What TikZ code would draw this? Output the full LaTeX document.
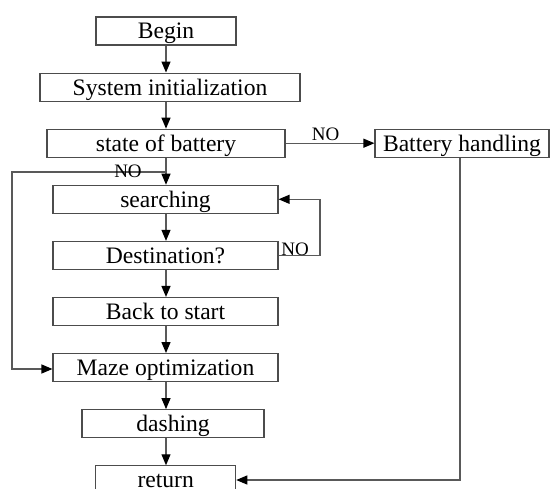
\documentclass[tikz,border=0pt]{standalone}
\usepackage{fontspec}
\setmainfont{Liberation Serif}
\usetikzlibrary{arrows.meta}
\begin{document}
\begin{tikzpicture}[x=1pt,y=-1pt,
  box/.style={draw=black!70,line width=1.1pt,minimum height=28pt,inner sep=0pt,
    text height=20.5pt,text depth=4.5pt,
    font=\fontsize{23.6}{26}\selectfont},
  conn/.style={draw=black!65,line width=1.2pt,-{Triangle[length=11pt,width=9pt,color=black]}},
  lbl/.style={font=\fontsize{19}{21}\selectfont,inner sep=0pt}]
\useasboundingbox (0,0) rectangle (551,489);
\node[box,minimum width=140pt] (begin) at (166,31) {Begin};
\node[box,minimum width=260pt] (init) at (170,87.1) {System initialization};
\node[box,minimum width=238pt] (state) at (166,143.2) {state of battery};
\node[box,minimum width=174pt] (batt) at (462,143.2) {Battery handling};
\node[box,minimum width=225pt] (search) at (165.5,199.3) {searching};
\node[box,minimum width=225pt] (dest) at (165.5,255.4) {Destination?};
\node[box,minimum width=225pt] (back) at (165.5,311.5) {Back to start};
\node[box,minimum width=225pt] (maze) at (165.5,367.6) {Maze optimization};
\node[box,minimum width=182pt] (dash) at (173,423.7) {dashing};
\node[box,minimum width=140pt,text height=15.5pt,text depth=0pt] (ret) at (165.7,479.8) {return};
\coordinate (j1) at (166,172);
\coordinate (l1) at (12,172);
\coordinate (l2) at (12,369);
\coordinate (r1) at (320,255.4);
\coordinate (r2) at (320,199.3);
\coordinate (b1) at (460,480);
\draw[conn] (begin.south -| 166,0) -- (init.north -| 166,0);
\draw[conn] (init.south -| 166,0) -- (state.north -| 166,0);
\draw[conn] (state.south -| 166,0) -- (search.north -| 166,0);
\draw[conn] (search.south -| 166,0) -- (dest.north -| 166,0);
\draw[conn] (dest.south -| 166,0) -- (back.north -| 166,0);
\draw[conn] (back.south -| 166,0) -- (maze.north -| 166,0);
\draw[conn] (maze.south -| 166,0) -- (dash.north -| 166,0);
\draw[conn] (dash.south -| 166,0) -- (ret.north -| 166,0);
\draw[conn] (state.east) -- (batt.west);
\node[lbl] (no1) at (325.5,134.5) {NO};
\draw[conn] (j1) -- (l1) -- (l2) -- (maze.west |- l2);
\node[lbl] (no2) at (128,171) {NO};
\draw[conn] (dest.east) -- (r1) -- (r2) -- (search.east);
\node[lbl] (no3) at (295,249) {NO};
\draw[conn] (batt.south -| b1) -- (b1) -- (ret.east |- b1);
\end{tikzpicture}
\end{document}
